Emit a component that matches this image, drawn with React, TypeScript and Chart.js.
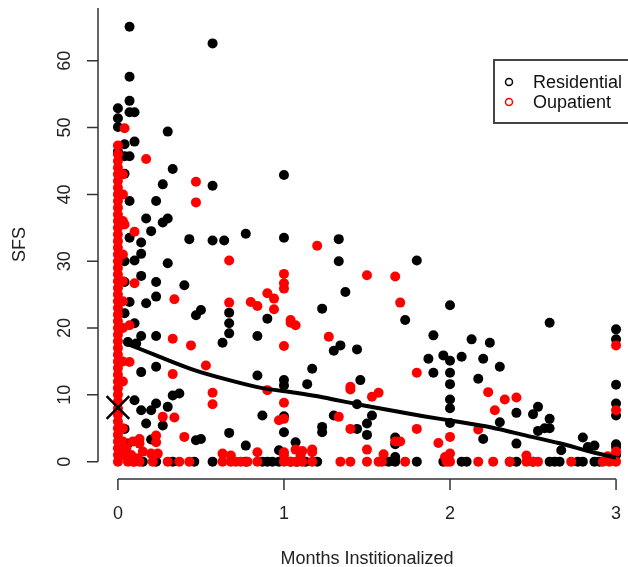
import { useEffect, useRef } from "react";
import { Chart, registerables } from "chart.js";

Chart.register(...registerables);

// ---- data (x = months institutionalized, y = SFS) ----
const residentialPoints: [number, number][] = [
  [0.07, 65.1], [0.57, 62.6], [0.07, 57.6], [0.07, 54.0], [0, 52.9], [0.07, 52.3], [0.10, 52.3],
  [0, 51.4], [0, 50.1], [0.30, 49.4], [0.04, 47.5], [0.10, 47.9], [0, 46.4], [0.04, 45.7], [0.07, 45.7],
  [0.33, 43.8], [1.0, 42.9], [0.27, 41.5], [0.57, 41.3], [0.04, 43.1], [0.23, 39.0], [0.07, 39.0],
  [0.17, 36.4], [0.30, 36.4], [0.27, 35.8], [0.20, 34.5], [0.77, 34.1], [0.43, 33.3], [0.57, 33.1],
  [0.64, 33.1], [1.0, 33.5], [0.07, 33.5], [0.14, 32.8], [0.14, 31.1], [0.10, 30.1], [0.04, 30.0],
  [0.30, 29.7], [0.14, 27.8], [0.04, 26.9], [0.23, 26.9], [0.40, 26.4], [0.23, 24.7], [0.17, 23.7],
  [0.07, 23.9], [0.50, 22.7], [0.47, 21.9], [0.67, 22.3], [0.04, 22.2], [0.90, 21.4],
  [0.67, 20.7], [0.10, 20.7], [0.14, 18.8], [0.23, 18.8], [0.06, 17.9], [0.11, 17.7], [0.63, 17.8],
  [0.67, 19.2], [0.84, 18.8], [0.14, 13.4], [0.23, 14.2], [0.84, 12.9], [1.0, 12.2], [1.0, 11.4],
  [0.33, 9.9], [0.37, 10.2], [0.10, 9.2], [0.14, 7.7], [0.20, 7.7], [0.23, 8.7], [0.30, 8.2],
  [0.17, 5.7], [0.27, 5.4], [0.87, 6.9], [1.0, 6.8], [1.0, 4.4], [0.67, 4.3], [0.47, 3.2], [0.50, 3.4],
  [0.77, 2.4], [0.20, 3.3], [0.97, 1.7], [0.04, 4.9], [0.06, 2.7], [1.07, 2.9],
  [0.15, 0], [0.23, 0], [0.33, 0], [0.46, 0], [0.57, 0], [0.77, 0], [0.87, 0], [0.90, 0], [0.93, 0],
  [0.97, 0], [1.04, 0], [1.08, 0],
  [1.33, 33.3], [1.33, 30.0], [1.80, 30.1], [1.37, 25.4], [1.23, 22.9], [2.0, 23.4], [1.73, 21.2],
  [1.90, 18.9], [2.13, 18.3], [1.34, 17.4], [1.30, 16.6], [1.44, 16.8], [1.87, 15.4], [1.96, 15.9],
  [2.0, 15.1], [2.07, 15.7], [2.2, 15.4], [1.17, 13.9], [1.90, 13.3], [2.0, 13.3], [2.17, 12.4],
  [1.14, 11.6], [1.46, 12.2], [2.0, 11.6], [2.0, 9.3], [2.0, 8.0], [1.44, 8.6], [1.30, 6.9], [1.53, 6.9],
  [2.0, 5.8], [1.23, 5.2], [1.23, 4.4], [1.50, 5.7], [1.50, 4.0], [1.44, 4.9], [1.67, 3.6], [1.67, 2.6],
  [2.2, 3.4], [1.67, 0.7],
  [1.13, 0], [1.20, 0], [1.63, 0], [1.67, 0], [1.80, 0], [1.96, 0], [2.07, 0], [2.10, 0], [2.36, 0],
  [2.40, 0], [2.50, 0], [2.60, 0], [2.63, 0], [2.66, 0], [2.77, 0], [2.80, 0], [2.87, 0], [2.90, 0],
  [2.60, 20.8], [3.0, 19.8], [3.0, 18.3], [2.24, 17.8], [2.30, 14.2], [3.0, 11.5], [3.0, 6.9], [3.0, 8.7],
  [2.40, 7.3], [2.53, 8.2], [2.50, 7.1], [2.60, 6.4], [2.30, 5.9], [2.53, 4.6], [2.57, 5.0], [2.60, 5.0],
  [2.40, 2.7], [2.80, 3.6], [2.83, 2.2], [2.87, 2.4], [2.67, 1.7], [3.0, 2.6], [3.0, 2.2], [3.0, 1.0],
];

const outpatientZeroColumn: number[] = [
  0, 1, 2, 3, 4, 5, 6, 7, 8, 9, 10, 11, 12, 13, 14, 15, 16, 17, 18, 19, 20, 21, 22, 23,
  24, 25, 26, 27, 28, 29, 30, 31, 32, 33, 34, 35, 36, 37, 38, 39, 40, 41, 42, 43, 44, 45, 46, 47.3,
];

const outpatientPoints: [number, number][] = [
  [0.03, 1], [0.03, 3], [0.03, 5], [0.03, 12], [0.03, 15], [0.03, 20], [0.03, 24], [0.03, 27],
  [0.03, 31], [0.03, 36], [0.03, 40], [0.03, 43],
  [0.06, 0], [0.08, 1], [0.10, 0], [0.05, 2], [0.09, 3], [0.12, 0.5], [0.13, 3.4], [0.13, 2.7], [0.15, 1.5],
  [0.04, 49.9], [0.17, 45.3], [0.47, 41.9], [0.47, 38.8], [0.10, 34.4], [0.04, 35.5], [0.67, 30.1],
  [1.0, 28.1], [1.20, 32.3], [1.0, 26.7], [1.0, 25.9], [0.10, 26.7], [0.34, 24.3], [0.67, 23.8],
  [0.80, 23.9], [0.84, 23.3], [0.90, 25.2], [0.94, 24.4], [0.94, 22.8], [1.04, 21.2], [0.07, 20.4],
  [0.33, 18.4], [0.44, 17.4], [0.07, 14.9], [0.53, 14.4], [0.33, 13.1], [0.57, 10.3], [0.57, 8.6],
  [0.90, 10.7], [1.0, 8.8], [0.27, 6.7], [0.34, 6.6], [0.97, 6.2], [1.0, 6.4], [1.04, 20.8], [1.07, 20.4],
  [1.0, 17.3], [0.23, 3.9], [0.23, 2.9], [0.40, 3.7],
  [0.09, 0], [0.13, 0], [0.21, 0], [0.30, 0], [0.37, 0], [0.43, 0], [0.63, 0], [0.68, 0], [0.71, 0],
  [0.74, 0], [0.78, 0], [0.84, 0], [1.0, 0], [1.04, 0], [1.07, 0], [1.11, 0], [1.17, 0],
  [0.84, 1.4], [0.63, 1.2], [0.68, 0.9], [1.0, 1.4], [1.0, 0.9], [1.11, 1.6], [1.17, 1.4], [0.20, 1.2], [0.24, 1.2],
  [1.50, 27.9], [1.67, 27.7], [1.70, 23.8], [1.27, 18.7], [1.80, 13.3], [1.40, 11.2], [1.40, 10.8],
  [1.53, 9.7], [1.57, 10.3], [2.23, 10.4], [1.33, 6.7], [1.40, 4.9], [1.80, 4.9], [2.17, 4.8], [2.0, 3.7],
  [1.70, 3.0], [1.67, 3.0], [1.93, 2.8], [1.50, 1.8], [1.07, 1.8], [1.17, 1.8], [1.10, 0.9], [2.0, 1.2],
  [1.97, 0.7], [1.60, 1.1],
  [1.34, 0], [1.40, 0], [1.50, 0], [1.57, 0], [1.59, 0], [1.73, 0], [1.98, 0], [2.0, 0], [2.17, 0],
  [2.26, 0], [2.36, 0], [2.46, 0], [2.50, 0], [2.53, 0], [2.73, 0], [2.92, 0], [2.96, 0], [3.0, 0],
  [3.0, 17.4], [2.33, 9.3], [2.40, 9.6], [2.27, 7.7], [3.0, 7.7], [2.46, 0.9], [3.0, 1.5], [2.95, 0.8],
];

const fitCurve: [number, number][] = [
  [0.06, 17.6], [0.23, 15.9], [0.46, 13.7], [0.67, 12.2], [0.87, 11.0], [1.07, 10.3], [1.24, 9.6],
  [1.44, 8.6], [1.64, 7.7], [1.84, 6.8], [2.04, 6.0], [2.25, 5.1], [2.46, 3.9], [2.66, 2.75],
  [2.86, 1.4], [3.0, 0.6],
];

const markerPoint: [number, number][] = [[0, 8.1]];

const xTicks = [0, 1, 2, 3];
const yTicks = [0, 10, 20, 30, 40, 50, 60];
const xTitle = "Months Institionalized";
const yTitle = "SFS";
const legendLabels = ["Residential", "Oupatient"];
const seriesColors = ["#000000", "#ff0000"];

const FONT = '18px "Liberation Sans", Arial, Helvetica, sans-serif';

const toXY = (pts: [number, number][]) => pts.map(([x, y]) => ({ x, y }));

const rStylePlugin = {
  id: "rStyle",
  afterDraw(chart: any) {
    const ctx: CanvasRenderingContext2D = chart.ctx;
    const xs = chart.scales.x;
    const ys = chart.scales.y;
    const ca = chart.chartArea;
    ctx.save();
    ctx.strokeStyle = "#333";
    ctx.lineWidth = 1.5;
    ctx.fillStyle = "#222";
    ctx.font = FONT;

    // x axis
    const axY = ca.bottom;
    const xa = xs.getPixelForValue(xTicks[0]);
    const xb = xs.getPixelForValue(xTicks[xTicks.length - 1]);
    ctx.beginPath();
    ctx.moveTo(xa, axY);
    ctx.lineTo(xb, axY);
    xTicks.forEach((t) => {
      const px = xs.getPixelForValue(t);
      ctx.moveTo(px, axY);
      ctx.lineTo(px, axY + 11);
    });
    ctx.stroke();
    ctx.textAlign = "center";
    ctx.textBaseline = "middle";
    xTicks.forEach((t) => {
      ctx.fillText(String(t), xs.getPixelForValue(t), axY + 35);
    });
    ctx.fillText(xTitle, (ca.left + ca.right + 8) / 2, axY + 80);

    // y axis
    const axX = ca.left;
    ctx.beginPath();
    ctx.moveTo(axX, ys.getPixelForValue(yTicks[0]));
    ctx.lineTo(axX, ca.top - 2);
    yTicks.forEach((t) => {
      const py = ys.getPixelForValue(t);
      ctx.moveTo(axX, py);
      ctx.lineTo(axX - 11, py);
    });
    ctx.stroke();
    yTicks.forEach((t) => {
      const py = ys.getPixelForValue(t);
      ctx.save();
      ctx.translate(axX - 33, py);
      ctx.rotate(-Math.PI / 2);
      ctx.fillText(String(t), 0, 0);
      ctx.restore();
    });
    ctx.save();
    ctx.translate(axX - 78, (ca.top + ca.bottom) / 2);
    ctx.rotate(-Math.PI / 2);
    ctx.fillText(yTitle, 0, 0);
    ctx.restore();

    // legend
    const lx = ca.right - 134;
    const ly = ca.top + 50;
    ctx.strokeStyle = "#444";
    ctx.lineWidth = 2;
    ctx.strokeRect(lx, ly, 160, 63);
    legendLabels.forEach((lab, i) => {
      const cy = ly + 22 + i * 20;
      ctx.beginPath();
      ctx.strokeStyle = seriesColors[i];
      ctx.lineWidth = 1.5;
      ctx.arc(lx + 15, cy, 3.5, 0, Math.PI * 2);
      ctx.stroke();
      ctx.fillStyle = "#111";
      ctx.textAlign = "left";
      ctx.textBaseline = "middle";
      ctx.fillText(lab, lx + 39, cy + 1);
    });
    ctx.restore();
  },
};

export default function App() {
  const ref = useRef<HTMLCanvasElement | null>(null);

  useEffect(() => {
    if (!ref.current) return;
    const outpatientAll = [
      ...outpatientZeroColumn.map((y) => ({ x: 0, y })),
      ...toXY(outpatientPoints),
    ];
    const chart = new Chart(ref.current, {
      type: "scatter",
      data: {
        datasets: [
          {
            label: legendLabels[0],
            data: toXY(residentialPoints),
            backgroundColor: seriesColors[0],
            borderColor: seriesColors[0],
            pointRadius: 5,
            borderWidth: 0,
            order: 4,
          },
          {
            label: legendLabels[1],
            data: outpatientAll,
            backgroundColor: seriesColors[1],
            borderColor: seriesColors[1],
            pointRadius: 5,
            borderWidth: 0,
            order: 3,
          },
          {
            label: "fit",
            data: toXY(fitCurve),
            showLine: true,
            borderColor: "#000",
            borderWidth: 4,
            pointRadius: 0,
            tension: 0.3,
            order: 2,
          } as any,
          {
            label: "mean",
            data: toXY(markerPoint),
            pointStyle: "crossRot",
            pointRadius: 16,
            borderColor: "#000",
            borderWidth: 2.5,
            order: 1,
          },
        ],
      },
      options: {
        animation: false,
        responsive: false,
        events: [],
        clip: false as any,
        layout: { autoPadding: false, padding: { left: 98, right: 0, top: 10, bottom: 88 } },
        plugins: { legend: { display: false }, tooltip: { enabled: false } },
        scales: {
          x: { type: "linear", min: -0.12, max: 3.072, display: false },
          y: { type: "linear", min: -2.6, max: 67.6, display: false },
        },
      },
      plugins: [rStylePlugin],
    });
    return () => chart.destroy();
  }, []);

  return (
    <div
      style={{
        position: "fixed",
        left: 0,
        top: 0,
        width: 628,
        height: 567,
        overflow: "hidden",
        background: "#fff",
      }}
    >
      <canvas ref={ref} width={628} height={567} style={{ width: 628, height: 567, display: "block" }} />
    </div>
  );
}
